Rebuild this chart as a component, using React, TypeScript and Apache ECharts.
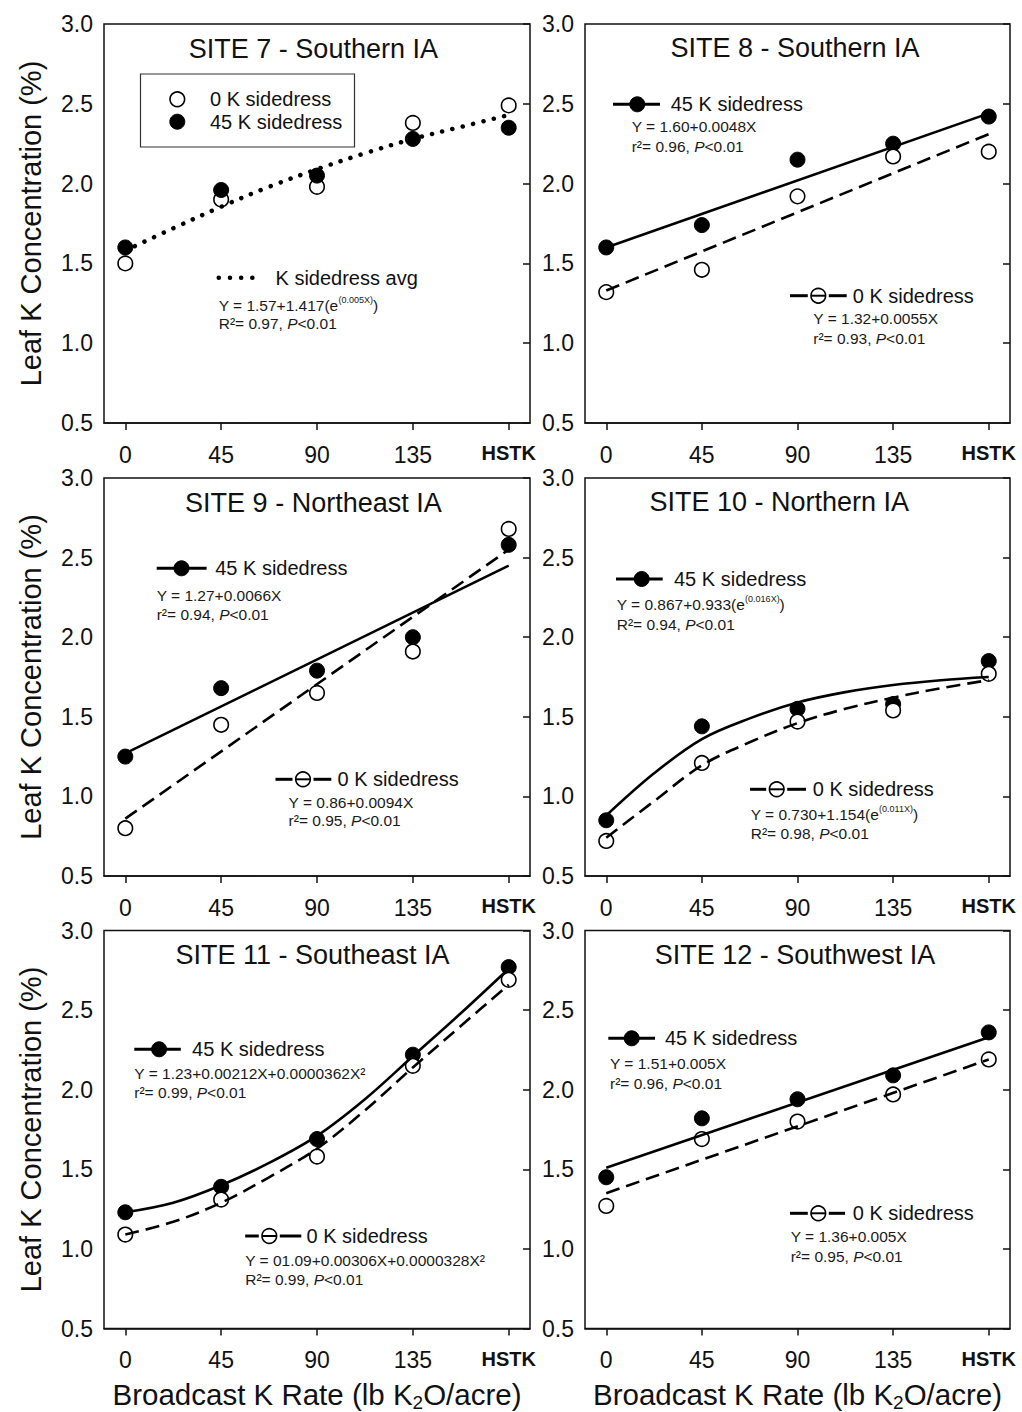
import React, { useEffect, useRef } from "react";
import * as echarts from "echarts";

// ---------- DATA ----------
const rates = [0, 45, 90, 135, 180]; // 180 = HSTK position
const rateLabels = ["0", "45", "90", "135", "HSTK"];
const fitX = [0, 22.5, 45, 67.5, 90, 112.5, 135, 157.5, 180];
const linX = [0, 180];

const site7Open = [1.5, 1.9, 1.98, 2.38, 2.49];
const site7Filled = [1.6, 1.96, 2.05, 2.28, 2.35];
const site7AvgFit = [1.58, 1.72, 1.855, 1.98, 2.09, 2.19, 2.28, 2.355, 2.43];

const site8Open = [1.32, 1.46, 1.92, 2.17, 2.2];
const site8Filled = [1.6, 1.74, 2.15, 2.25, 2.42];
const site8FitFilled = [1.6, 2.44];
const site8FitOpen = [1.33, 2.31];

const site9Open = [0.8, 1.45, 1.65, 1.91, 2.68];
const site9Filled = [1.25, 1.68, 1.79, 2.0, 2.58];
const site9FitFilled = [1.27, 2.45];
const site9FitOpen = [0.86, 2.55];

const site10Open = [0.72, 1.21, 1.47, 1.54, 1.77];
const site10Filled = [0.85, 1.44, 1.55, 1.58, 1.85];
const site10FitFilled = [0.88, 1.145, 1.36, 1.49, 1.59, 1.655, 1.7, 1.73, 1.75];
const site10FitOpen = [0.74, 0.97, 1.195, 1.34, 1.46, 1.55, 1.62, 1.68, 1.73];

const site11Open = [1.09, 1.31, 1.58, 2.15, 2.69];
const site11Filled = [1.23, 1.39, 1.69, 2.22, 2.77];
const site11FitFilled = [1.23, 1.29, 1.4, 1.54, 1.71, 1.94, 2.21, 2.48, 2.76];
const site11FitOpen = [1.09, 1.17, 1.29, 1.45, 1.63, 1.87, 2.14, 2.4, 2.66];

const site12Open = [1.27, 1.69, 1.8, 1.97, 2.19];
const site12Filled = [1.45, 1.82, 1.94, 2.09, 2.36];
const site12FitFilled = [1.51, 2.33];
const site12FitOpen = [1.35, 2.19];

const titles = [
  "SITE 7 - Southern IA",
  "SITE 8 - Southern IA",
  "SITE 9 - Northeast IA",
  "SITE 10 - Northern IA",
  "SITE 11 - Southeast IA",
  "SITE 12 - Southwest IA",
];

// ---------- LAYOUT / STYLE ----------
const FONT = '"Liberation Sans", Arial, Helvetica, sans-serif';
const INK = "#111";
const COLS = [
  { left: 104, width: 426 },
  { left: 585, width: 425 },
];
const ROWS = [
  { top: 24, height: 399 },
  { top: 478, height: 398 },
  { top: 930.5, height: 398 },
];

type Fit = { x: number[]; y: number[]; kind: "solid" | "dashed" | "dotted"; smooth: boolean };
type Panel = { col: number; row: number; open: number[]; filled: number[]; openOnTop: boolean; fits: Fit[] };

const panels: Panel[] = [
  { col: 0, row: 0, open: site7Open, filled: site7Filled, openOnTop: false,
    fits: [{ x: fitX, y: site7AvgFit, kind: "dotted", smooth: true }] },
  { col: 1, row: 0, open: site8Open, filled: site8Filled, openOnTop: true,
    fits: [{ x: linX, y: site8FitFilled, kind: "solid", smooth: false }, { x: linX, y: site8FitOpen, kind: "dashed", smooth: false }] },
  { col: 0, row: 1, open: site9Open, filled: site9Filled, openOnTop: true,
    fits: [{ x: linX, y: site9FitFilled, kind: "solid", smooth: false }, { x: linX, y: site9FitOpen, kind: "dashed", smooth: false }] },
  { col: 1, row: 1, open: site10Open, filled: site10Filled, openOnTop: true,
    fits: [{ x: fitX, y: site10FitFilled, kind: "solid", smooth: true }, { x: fitX, y: site10FitOpen, kind: "dashed", smooth: true }] },
  { col: 0, row: 2, open: site11Open, filled: site11Filled, openOnTop: true,
    fits: [{ x: fitX, y: site11FitFilled, kind: "solid", smooth: true }, { x: fitX, y: site11FitOpen, kind: "dashed", smooth: true }] },
  { col: 1, row: 2, open: site12Open, filled: site12Filled, openOnTop: true,
    fits: [{ x: linX, y: site12FitFilled, kind: "solid", smooth: false }, { x: linX, y: site12FitOpen, kind: "dashed", smooth: false }] },
];

// ---------- GRAPHIC HELPERS ----------
const txt = (x: number, y: number, text: string, size: number, extra: any = {}) => ({
  type: "text",
  x,
  y,
  z: 50,
  style: {
    text,
    fontSize: size,
    fontFamily: FONT,
    fill: INK,
    align: "left",
    textAlign: "left",
    verticalAlign: "middle",
    textVerticalAlign: "middle",
    ...extra,
  },
});

const eqRich = {
  n: { fontSize: 15.5, fontFamily: FONT, fill: "#1a1a1a", verticalAlign: "middle", lineHeight: 20 },
  i: { fontSize: 15.5, fontFamily: FONT, fill: "#1a1a1a", fontStyle: "italic", verticalAlign: "middle", lineHeight: 20 },
  s: { fontSize: 9, fontFamily: FONT, fill: "#1a1a1a", verticalAlign: "top", lineHeight: 10 },
};
const eq = (x: number, y: number, text: string) => txt(x, y, text, 15.5, { rich: eqRich, fill: "#1a1a1a" });

const solidKey = (x1: number, x2: number, cx: number, y: number) => [
  { type: "line", z: 40, shape: { x1, y1: y, x2, y2: y }, style: { stroke: "#000", lineWidth: 3 } },
  { type: "circle", z: 41, shape: { cx, cy: y, r: 7.5 }, style: { fill: "#000", stroke: "#000", lineWidth: 1 } },
];
const dashedKey = (x1: number, x2: number, cx: number, y: number) => [
  { type: "line", z: 40, shape: { x1, y1: y, x2: cx - 10.5, y2: y }, style: { stroke: "#000", lineWidth: 3 } },
  { type: "line", z: 40, shape: { x1: cx + 10.5, y1: y, x2, y2: y }, style: { stroke: "#000", lineWidth: 3 } },
  { type: "line", z: 40, shape: { x1: cx - 7, y1: y, x2: cx + 7, y2: y }, style: { stroke: "#000", lineWidth: 2 } },
  { type: "circle", z: 41, shape: { cx, cy: y, r: 7.3 }, style: { fill: "none", stroke: "#000", lineWidth: 1.6 } },
];

function buildGraphics() {
  const g: any[] = [];
  // panel titles
  const titlePos = [
    [313.4, 49.3],
    [795, 48.3],
    [313.4, 503.3],
    [779.2, 501.7],
    [312.5, 955],
    [795, 955],
  ];
  titles.forEach((t, i) => g.push(txt(titlePos[i][0], titlePos[i][1], t, 27, { align: "center", textAlign: "center" })));

  // y-axis titles
  ROWS.forEach((r) =>
    g.push({
      type: "text",
      x: 31,
      y: r.top + r.height / 2,
      rotation: Math.PI / 2,
      z: 50,
      style: {
        text: "Leaf K Concentration (%)",
        fontSize: 29,
        fontFamily: FONT,
        fill: INK,
        align: "center",
        textAlign: "center",
        verticalAlign: "middle",
        textVerticalAlign: "middle",
      },
    })
  );
  // x-axis titles
  const xtRich = {
    n: { fontSize: 29.5, fontFamily: FONT, fill: INK, verticalAlign: "middle", lineHeight: 36 },
    sub: { fontSize: 19, fontFamily: FONT, fill: INK, verticalAlign: "bottom", lineHeight: 19 },
  };
  COLS.forEach((c) =>
    g.push(
      txt(c.left + c.width / 2, 1394, "{n|Broadcast K Rate (lb K}{sub|2}{n|O/acre)}", 29.5, {
        align: "center",
        textAlign: "center",
        rich: xtRich,
      })
    )
  );

  // Site 7 legend box + keys
  g.push({ type: "rect", z: 39, shape: { x: 140.5, y: 74, width: 214, height: 73 }, style: { fill: "none", stroke: "#333", lineWidth: 1.2 } });
  g.push({ type: "circle", z: 41, shape: { cx: 177.3, cy: 99.3, r: 7.3 }, style: { fill: "#fff", stroke: "#000", lineWidth: 1.6 } });
  g.push(txt(210, 99.3, "0 K sidedress", 20));
  g.push({ type: "circle", z: 41, shape: { cx: 177.3, cy: 121.7, r: 7.5 }, style: { fill: "#000", stroke: "#000", lineWidth: 1 } });
  g.push(txt(210, 121.7, "45 K sidedress", 20));
  g.push({
    type: "line",
    z: 40,
    shape: { x1: 218.7, y1: 277.7, x2: 263.4, y2: 277.7 },
    style: { stroke: "#000", lineWidth: 4.5, lineDash: [0.1, 11.1], lineCap: "round" },
  });
  g.push(txt(275.5, 277.7, "K sidedress avg", 20));
  g.push(eq(218.7, 305, "{n|Y = 1.57+1.417(e}{s|(0.005X)}{n|)}"));
  g.push(eq(218.7, 323.3, "{n|R²= 0.97, }{i|P}{n|<0.01}"));

  // Site 8
  g.push(...solidKey(613, 660, 637.3, 104.3));
  g.push(txt(670.7, 104.3, "45 K sidedress", 20));
  g.push(eq(631.7, 126.7, "{n|Y = 1.60+0.0048X}"));
  g.push(eq(631.7, 146, "{n|r²= 0.96, }{i|P}{n|<0.01}"));
  g.push(...dashedKey(790, 846.7, 818.3, 295.7));
  g.push(txt(852.7, 295.7, "0 K sidedress", 20));
  g.push(eq(813.3, 318.3, "{n|Y = 1.32+0.0055X}"));
  g.push(eq(813.3, 338.3, "{n|r²= 0.93, }{i|P}{n|<0.01}"));

  // Site 9
  g.push(...solidKey(156.7, 206.6, 181.5, 568.3));
  g.push(txt(215.2, 568.3, "45 K sidedress", 20));
  g.push(eq(156.7, 595, "{n|Y = 1.27+0.0066X}"));
  g.push(eq(156.7, 614, "{n|r²= 0.94, }{i|P}{n|<0.01}"));
  g.push(...dashedKey(275.5, 331.3, 303, 779.3));
  g.push(txt(337.5, 779.3, "0 K sidedress", 20));
  g.push(eq(288.6, 802.7, "{n|Y = 0.86+0.0094X}"));
  g.push(eq(288.6, 820.7, "{n|r²= 0.95, }{i|P}{n|<0.01}"));

  // Site 10
  g.push(...solidKey(616, 662.7, 641.7, 579));
  g.push(txt(674, 579, "45 K sidedress", 20));
  g.push(eq(616.7, 604, "{n|Y = 0.867+0.933(e}{s|(0.016X)}{n|)}"));
  g.push(eq(616.7, 624.3, "{n|R²= 0.94, }{i|P}{n|<0.01}"));
  g.push(...dashedKey(750, 806, 776.7, 789.3));
  g.push(txt(812.7, 789.3, "0 K sidedress", 20));
  g.push(eq(750.7, 814, "{n|Y = 0.730+1.154(e}{s|(0.011X)}{n|)}"));
  g.push(eq(750.7, 833.3, "{n|R²= 0.98, }{i|P}{n|<0.01}"));

  // Site 11
  g.push(...solidKey(134.3, 180.8, 159.1, 1049.3));
  g.push(txt(192.1, 1049.3, "45 K sidedress", 20));
  g.push(eq(134.3, 1073.3, "{n|Y = 1.23+0.00212X+0.0000362X²}"));
  g.push(eq(134.3, 1092.7, "{n|r²= 0.99, }{i|P}{n|<0.01}"));
  g.push(...dashedKey(245.2, 301.3, 269.3, 1236));
  g.push(txt(306.5, 1236, "0 K sidedress", 20));
  g.push(eq(245.2, 1260, "{n|Y = 01.09+0.00306X+0.0000328X²}"));
  g.push(eq(245.2, 1279.3, "{n|R²= 0.99, }{i|P}{n|<0.01}"));

  // Site 12
  g.push(...solidKey(608.3, 655, 631.7, 1038.3));
  g.push(txt(665, 1038.3, "45 K sidedress", 20));
  g.push(eq(610, 1063.3, "{n|Y = 1.51+0.005X}"));
  g.push(eq(610, 1083.3, "{n|r²= 0.96, }{i|P}{n|<0.01}"));
  g.push(...dashedKey(790, 845, 818.3, 1213.3));
  g.push(txt(852.7, 1213.3, "0 K sidedress", 20));
  g.push(eq(790.7, 1236.7, "{n|Y = 1.36+0.005X}"));
  g.push(eq(790.7, 1256.7, "{n|r²= 0.95, }{i|P}{n|<0.01}"));

  return g;
}

function buildOption() {
  const grid: any[] = [];
  const xAxis: any[] = [];
  const yAxis: any[] = [];
  const series: any[] = [];
  const axisLineStyle = { color: INK, width: 1.5 };

  panels.forEach((p, i) => {
    const c = COLS[p.col];
    const r = ROWS[p.row];
    grid.push({
      left: c.left,
      top: r.top,
      width: c.width,
      height: r.height,
      show: true,
      borderColor: INK,
      borderWidth: 1.5,
      backgroundColor: "transparent",
      containLabel: false,
    });
    xAxis.push({
      gridIndex: i,
      type: "value",
      min: -10,
      max: 190,
      splitLine: { show: false },
      axisLine: { show: true, onZero: false, lineStyle: axisLineStyle },
      axisTick: { show: true, customValues: rates, length: 7, lineStyle: axisLineStyle },
      axisLabel: {
        customValues: rates,
        margin: 20,
        fontSize: 23,
        fontFamily: FONT,
        color: INK,
        formatter: (v: number) => {
          const k = rates.indexOf(v);
          const s = k >= 0 ? rateLabels[k] : "";
          return v === 180 ? "{b|" + s + "}" : s;
        },
        rich: { b: { fontWeight: "bold", fontSize: 20, fontFamily: FONT, color: INK } },
      },
    });
    yAxis.push({
      gridIndex: i,
      type: "value",
      position: "left",
      min: 0.5,
      max: 3,
      interval: 0.5,
      axisLine: { show: false },
      axisTick: { show: false },
      splitLine: { show: false },
      axisLabel: { margin: 11, fontSize: 23, fontFamily: FONT, color: INK, formatter: (v: number) => v.toFixed(1) },
    });
    yAxis.push({
      gridIndex: i,
      type: "value",
      position: "right",
      min: 0.5,
      max: 3,
      interval: 0.5,
      axisLine: { show: false },
      axisTick: { show: true, inside: true, length: 7, lineStyle: axisLineStyle },
      axisLabel: { show: false },
      splitLine: { show: false },
    });

    const filledS = {
      type: "scatter",
      xAxisIndex: i,
      yAxisIndex: 2 * i,
      symbol: "circle",
      symbolSize: 15,
      z: 2,
      itemStyle: { color: "#000", borderColor: "#000", borderWidth: 1, opacity: 1 },
      data: rates.map((x, j) => [x, p.filled[j]]),
    };
    const openS = {
      type: "scatter",
      xAxisIndex: i,
      yAxisIndex: 2 * i,
      symbol: "circle",
      symbolSize: 14.5,
      z: 2,
      itemStyle: { color: "#fff", borderColor: "#000", borderWidth: 1.6, opacity: 1 },
      data: rates.map((x, j) => [x, p.open[j]]),
    };
    if (p.openOnTop) series.push(filledS, openS);
    else series.push(openS, filledS);

    p.fits.forEach((f) => {
      const ls: any = { color: "#000", width: 2.6 };
      if (f.kind === "dashed") ls.type = [14, 7];
      if (f.kind === "dotted") {
        ls.type = [0.1, 10.5];
        ls.width = 4.5;
        ls.cap = "round";
      }
      series.push({
        type: "line",
        xAxisIndex: i,
        yAxisIndex: 2 * i,
        z: 3,
        symbol: "none",
        showSymbol: false,
        smooth: f.smooth ? 0.35 : false,
        lineStyle: ls,
        data: f.x.map((x, j) => [x, f.y[j]]),
      });
    });
  });

  return {
    animation: false,
    backgroundColor: "#fff",
    textStyle: { fontFamily: FONT },
    grid,
    xAxis,
    yAxis,
    series,
    graphic: { elements: buildGraphics() },
  };
}

export default function App() {
  const ref = useRef<HTMLDivElement>(null);
  useEffect(() => {
    if (!ref.current) return;
    const chart = echarts.init(ref.current, null, { renderer: "svg" });
    chart.setOption(buildOption() as any);
    return () => chart.dispose();
  }, []);
  return (
    <div
      ref={ref}
      style={{ position: "absolute", left: 0, top: 0, width: 1022, height: 1412, background: "#fff" }}
    />
  );
}
